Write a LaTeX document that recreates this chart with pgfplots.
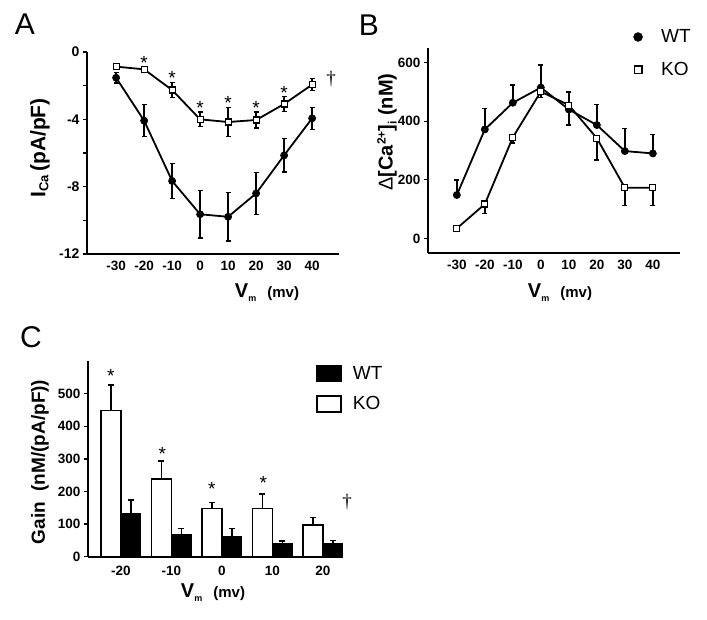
\documentclass[border=0pt]{standalone}
\usepackage{fontspec}
\setmainfont{Liberation Sans}
\newfontfamily\seriffont{Liberation Serif}
\usepackage{pgfplots}
\pgfplotsset{compat=1.18}
\pgfplotsset{
  panel/.style={
    scale only axis, clip=false,
    axis x line*=bottom, axis y line*=left,
    axis line style={line width=1.6pt,-},
    every tick/.style={line width=1.3pt,black},
    major tick length=4pt, minor tick length=4pt, tick align=outside,
    /pgf/number format/assume math mode=true,
    ticklabel style={font=\fontsize{13.5}{15}\selectfont\bfseries},
    xtick style={draw=none},
  },
  lineplot/.style={line width=1.8pt, black,
    error bars/y dir=both, error bars/y explicit,
    error bars/error bar style={line width=1.5pt},
    error bars/error mark options={rotate=90, mark size=2.6pt, line width=1.4pt}},
  wtmark/.style={mark=*, mark size=3.5pt, mark options={fill=black, line width=0.8pt}},
  komark/.style={mark=square*, mark size=3pt, mark options={fill=white, line width=1.2pt}},
  barerr/.style={error bars/y dir=plus, error bars/y explicit,
    error bars/error bar style={line width=1.5pt},
    error bars/error mark options={rotate=90, mark size=3pt, line width=1.5pt}},
}
\newcommand{\sigast}{\fontsize{19}{19}\selectfont *}
\begin{document}
\begin{tikzpicture}[x=1pt,y=1pt]
\path[use as bounding box] (0,0) rectangle (707,-620);

% ---------------- Panel A ----------------
\begin{axis}[panel, at={(87pt,-254pt)}, anchor=south west,
  width=252pt, height=202pt,
  xmin=-40.4, xmax=49.6, ymin=-12, ymax=0,
  xtick={-30,-20,-10,0,10,20,30,40},
  ytick={-12,-8,-4,0}, minor ytick={-10,-6,-2},
  yticklabel style={font=\fontsize{14}{16}\selectfont\bfseries},
]
\addplot[lineplot, wtmark] coordinates {
 (-30,-1.53) +- (0,0.32)
 (-20,-4.08) +- (0,0.95)
 (-10,-7.66) +- (0,1.04)
 (0,-9.64) +- (0,1.41)
 (10,-9.79) +- (0,1.43)
 (20,-8.40) +- (0,1.24)
 (30,-6.14) +- (0,0.99)
 (40,-3.94) +- (0,0.65)
};
\addplot[lineplot, komark] coordinates {
 (-30,-0.87) +- (0,0.08)
 (-20,-1.03) +- (0,0.10)
 (-10,-2.26) +- (0,0.46)
 (0,-4.00) +- (0,0.44)
 (10,-4.16) +- (0,0.87)
 (20,-4.04) +- (0,0.48)
 (30,-3.09) +- (0,0.43)
 (40,-1.94) +- (0,0.36)
};
\node[anchor=base] at (axis cs:-20,-1.05) {\sigast};
\node[anchor=base] at (axis cs:-10,-1.95) {\sigast};
\node[anchor=base] at (axis cs:0,-3.7) {\sigast};
\node[anchor=base] at (axis cs:10,-3.4) {\sigast};
\node[anchor=base] at (axis cs:20,-3.7) {\sigast};
\node[anchor=base] at (axis cs:30,-2.8) {\sigast};
\node[anchor=base] at (axis cs:46.8,-1.95) {\seriffont\fontsize{19}{19}\selectfont †};
\end{axis}

% ---------------- Panel B ----------------
\begin{axis}[panel, at={(428pt,-253pt)}, anchor=south west,
  width=252pt, height=205pt,
  xmin=-40.3, xmax=49.7, ymin=-50, ymax=650,
  xtick={-30,-20,-10,0,10,20,30,40},
  ytick={0,200,400,600},
  legend style={at={(0.813,1.10)}, anchor=north west, draw=none, fill=none,
    font=\fontsize{19}{22}\selectfont, row sep=14pt, inner sep=0pt},
  legend cell align=left,
  legend image code/.code={\path[draw=none,fill=none] (-5pt,-5pt) rectangle (21pt,5pt);
     \draw[#1] plot coordinates {(0pt,0pt)};},
]
\addlegendimage{only marks, black, mark=*, mark size=4.5pt, mark options={fill=black}}
\addlegendentry{WT}
\addlegendimage{only marks, black, mark=square*, mark size=3.8pt, mark options={fill=white, line width=1.3pt}}
\addlegendentry{KO}
\addplot[lineplot, wtmark, error bars/y dir=plus, forget plot] coordinates {
 (-30,148) +- (0,51)
 (-20,372) +- (0,72)
 (-10,463) +- (0,61)
 (0,515) +- (0,77)
 (10,440) +- (0,60)
 (20,387) +- (0,71)
 (30,298) +- (0,78)
 (40,290) +- (0,65)
};
\addplot[lineplot, komark, error bars/y dir=minus, forget plot] coordinates {
 (-30,34) +- (0,8)
 (-20,117) +- (0,32)
 (-10,345) +- (0,20)
 (0,501) +- (0,19)
 (10,455) +- (0,68)
 (20,342) +- (0,74)
 (30,173) +- (0,61)
 (40,173) +- (0,61)
};
\end{axis}

% ---------------- Panel C ----------------
\begin{axis}[panel, at={(88pt,-556.7pt)}, anchor=south west,
  width=255pt, height=195.7pt,
  xmin=-0.65, xmax=4.4, ymin=0, ymax=600,
  xtick={0,1,2,3,4}, xticklabels={-20,-10,0,10,20},
  xticklabel style={yshift=-2pt},
  ytick={0,100,200,300,400,500},
  bar width=20pt,
  legend style={at={(0.894,0.985)}, anchor=north west, draw=none, fill=none,
    font=\fontsize{19}{22}\selectfont, row sep=12pt, inner sep=0pt},
  legend cell align=left,
  legend image code/.code={\draw[#1, line width=1.6pt] (0pt,-8pt) rectangle (24pt,8pt);
     \path[draw=none,fill=none] (0pt,0pt) -- (34pt,0pt);},
]
\addplot[ybar, bar shift=0pt, fill=black, draw=black, line width=1pt, barerr] coordinates {
 (0.198,133) +- (0,41)
 (1.198,68.5) +- (0,18.5)
 (2.198,63) +- (0,24)
 (3.198,41) +- (0,7)
 (4.198,39) +- (0,10)
};
\addlegendentry{WT}
\addplot[ybar, bar shift=0pt, fill=white, draw=black, line width=1.6pt, barerr] coordinates {
 (-0.198,448) +- (0,79)
 (0.802,238) +- (0,56)
 (1.802,148) +- (0,18)
 (2.802,148) +- (0,44)
 (3.802,97) +- (0,23)
};
\addlegendentry{KO}
\node[anchor=base] at (axis cs:-0.2,533) {\sigast};
\node[anchor=base] at (axis cs:0.82,294) {\sigast};
\node[anchor=base] at (axis cs:1.8,187) {\sigast};
\node[anchor=base] at (axis cs:2.82,207) {\sigast};
\node[anchor=base] at (axis cs:4.48,150) {\seriffont\fontsize{19}{19}\selectfont †};
\end{axis}

% ---------------- labels ----------------
\node[font=\fontsize{30}{30}\selectfont] at (25,-24) {A};
\node[font=\fontsize{30}{30}\selectfont] at (369,-25) {B};
\node[font=\fontsize{30}{30}\selectfont] at (31,-337) {C};

\node[rotate=90, font=\bfseries] at (40,-148)
  {\fontsize{21}{24}\selectfont I\raisebox{-3pt}{\fontsize{13}{14}\selectfont Ca}\,(pA/pF)};
\node[font=\bfseries] at (267,-293)
  {\fontsize{20}{24}\selectfont V\raisebox{-4pt}{\fontsize{9}{10}\selectfont m}\ \ \fontsize{15}{18}\selectfont(mv)};

\node[rotate=90, font=\bfseries] at (387,-132)
  {\fontsize{20}{24}\selectfont {\mdseries Δ}[Ca\raisebox{7pt}{\fontsize{12}{13}\selectfont 2+}]\raisebox{-4pt}{\fontsize{12}{13}\selectfont i} (nM)};
\node[font=\bfseries] at (560,-293)
  {\fontsize{20}{24}\selectfont V\raisebox{-4pt}{\fontsize{9}{10}\selectfont m}\ \ \fontsize{15}{18}\selectfont(mv)};

\node[rotate=90, font=\bfseries] at (40,-462)
  {\fontsize{19}{22}\selectfont Gain\ \ (nM/(pA/pF))};
\node[font=\bfseries] at (213,-593)
  {\fontsize{20}{24}\selectfont V\raisebox{-4pt}{\fontsize{9}{10}\selectfont m}\ \ \fontsize{15}{18}\selectfont(mv)};
\end{tikzpicture}
\end{document}
